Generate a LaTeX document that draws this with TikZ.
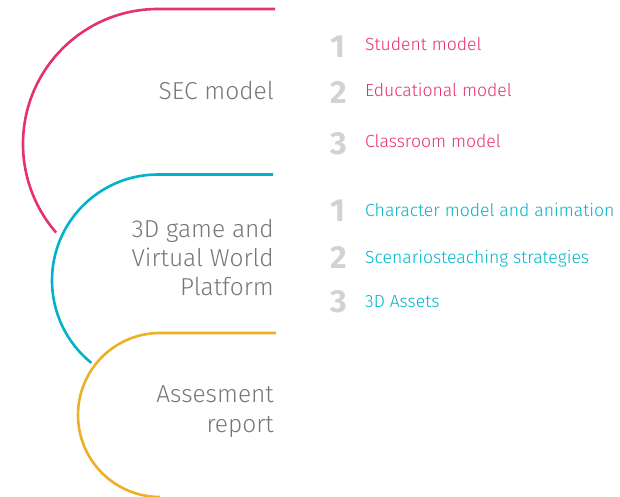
\documentclass[tikz,border=0pt]{standalone}
\usepackage{fontspec}
\setmainfont{Fira Sans Light}
\newfontfamily\numfont{Fira Sans}[BoldFont={Fira Sans Bold}]
\usetikzlibrary{positioning}
\definecolor{secpink}{HTML}{E6306F}
\definecolor{gamecyan}{HTML}{00B3CB}
\definecolor{repyellow}{HTML}{EBB025}
\definecolor{titlegray}{HTML}{76777A}
\definecolor{numgray}{HTML}{D1D2D4}
\tikzset{
  title/.style={anchor=base east, inner sep=0pt, text=titlegray, font=\fontsize{24.5}{29}\selectfont},
  num/.style={anchor=base west, inner sep=0pt, text=numgray, font=\numfont\bfseries\fontsize{32}{32}\selectfont},
  item/.style={anchor=base west, inner sep=0pt, font=\fontsize{17.6}{19}\selectfont}
}
\begin{document}
\begin{tikzpicture}[x=1pt, y=1pt]
    \useasboundingbox (0,0) rectangle (620,497);

    \draw[secpink, line width=2.6pt] (275,488) -- (158,488) arc (90:221:135);
    \draw[gamecyan, line width=2.6pt] (273,322.5) -- (158,322.5) arc (90:231:106);
    \draw[repyellow, line width=2.6pt] (276,164) -- (160,164) arc (90:270:82);

    \node[title] (sec) at (274,397) {SEC model};
    \node[title] (game1) at (274,259) {3D game and};
    \node[title] (game2) at (274,230) {Virtual World};
    \node[title] (game3) at (274,201) {Platform};
    \node[title] (assess1) at (274,94) {Assesment};
    \node[title] (assess2) at (274,64) {report};

    \foreach \n/\y/\t in {1/446/Student model, 2/400/Educational model, 3/349/Classroom model}
    {
      \node[num] (secnum\n) at (330,\y-7) {\n};
      \node[item, text=secpink] (secitem\n) at (365,\y) {\t};
    }
    \foreach \n/\y/\t in {1/280/Character model and animation, 2/233/Scenariosteaching strategies, 3/189/3D Assets}
    {
      \node[num] (gamenum\n) at (330,\y-5) {\n};
      \node[item, text=gamecyan] (gameitem\n) at (365,\y) {\t};
    }

  \end{tikzpicture}
\end{document}
